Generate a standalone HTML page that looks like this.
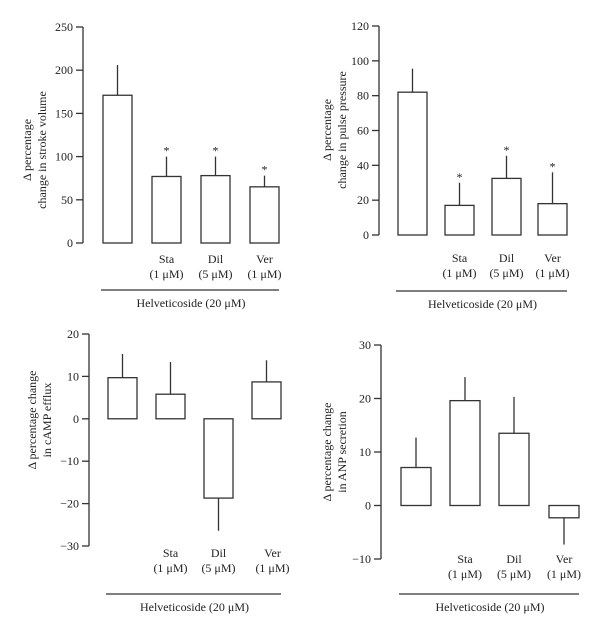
<!DOCTYPE html>
<html><head><meta charset="utf-8"><style>
body{margin:0;background:#fff}
svg{display:block;font-family:"Liberation Serif",serif;font-size:12px;fill:#222}
</style></head><body>
<svg id="c" width="600" height="638" viewBox="0 0 600 638" xmlns="http://www.w3.org/2000/svg"></svg>
<script>
const groupLabels = ["", "Sta", "Dil", "Ver"];
const concLabels = ["", "(1 \u03bcM)", "(5 \u03bcM)", "(1 \u03bcM)"];
const svValues = [171, 77, 78, 65];
const svErrors = [206, 100, 100, 78];
const svStars = [false, true, true, true];
const svTicks = [0, 50, 100, 150, 200, 250];
const ppValues = [82, 17, 32.5, 18];
const ppErrors = [95.5, 30, 45.5, 36];
const ppStars = [false, true, true, true];
const ppTicks = [0, 20, 40, 60, 80, 100, 120];
const campValues = [9.7, 5.8, -18.7, 8.7];
const campErrors = [15.3, 13.4, -26.4, 13.8];
const campStars = [false, false, false, false];
const campTicks = [-30, -20, -10, 0, 10, 20];
const anpValues = [7.1, 19.6, 13.5, -2.3];
const anpErrors = [12.7, 24, 20.3, -7.3];
const anpStars = [false, false, false, false];
const anpTicks = [-10, 0, 10, 20, 30];

const svg = document.getElementById('c');
const NS = 'http://www.w3.org/2000/svg';
function mk(tag, attrs, parent) {
  const e = document.createElementNS(NS, tag);
  for (const k in attrs) e.setAttribute(k, attrs[k]);
  (parent || svg).appendChild(e);
  return e;
}
function panel(p) {
  const g = mk('g', {});
  
  
  const tmin = p.ticks[0], tmax = p.ticks[p.ticks.length - 1];
  const y = v => p.yBot + (v - tmin) / (tmax - tmin) * (p.yTop - p.yBot);
  const ax = mk('line', {x1: p.ax, x2: p.ax, y1: p.yTop, y2: p.yBot, stroke: '#333', 'stroke-width': 1.3}, g);
  
  
  p.ticks.forEach(t => {
    mk('line', {x1: p.ax - 7, x2: p.ax, y1: y(t), y2: y(t), stroke: '#333', 'stroke-width': 1.3}, g);
    const tx = mk('text', {x: p.ax - 10, y: y(t) + 4, 'text-anchor': 'end'}, g);
    tx.textContent = t < 0 ? '\u2212' + Math.abs(t) : String(t);
    
    
  });
  const tt = mk('text', {transform: `translate(${p.titleX},${p.titleY}) rotate(-90)`, 'text-anchor': 'middle'}, g);
  
  
  p.title.forEach((s, i) => { const ts = mk('tspan', {x: 0, dy: i ? 15 : 0}, tt); ts.textContent = s; });
  p.values.forEach((v, i) => {
    const x0 = p.bx[i], w = p.bw;
    const cx = x0 + w / 2;
    const e = p.errors[i];
    const eb = mk('line', {x1: cx, x2: cx, y1: y(v), y2: y(e), stroke: '#333', 'stroke-width': 1.3}, g);
    
    
    const r = mk('rect', {x: x0, y: Math.min(y(v), y(0)), width: w, height: Math.abs(y(v) - y(0)), fill: '#fff', stroke: '#333', 'stroke-width': 1.3}, g);
    
    
    if (p.stars[i]) {
      const st = mk('text', {x: cx, y: y(e) - 2, 'text-anchor': 'middle', 'font-size': 12}, g);
      st.textContent = '*';
      
      
    }
    if (groupLabels[i]) {
      const lx = cx + (p.labDx ? p.labDx[i] : 0);
      const l1 = mk('text', {x: lx, y: p.labY, 'text-anchor': 'middle'}, g);
      l1.textContent = groupLabels[i];
      
      
      const l2 = mk('text', {x: lx, y: p.labY + 15, 'text-anchor': 'middle'}, g);
      l2.textContent = concLabels[i];
      
      
    }
  });
  const last = p.bx[p.bx.length - 1] + p.bw;
  const bl = mk('line', {x1: p.bx[0] - 2, x2: last, y1: p.lineY, y2: p.lineY, stroke: '#333', 'stroke-width': 1.3}, g);
  
  
  const hv = mk('text', {x: (p.bx[0] + last) / 2, y: p.lineY + 17, 'text-anchor': 'middle'}, g);
  hv.textContent = 'Helveticoside (20 \u03bcM)';
  
  
}
panel({name: 'stroke-volume-panel', ax: 83, yTop: 27, yBot: 243, ticks: svTicks, values: svValues, errors: svErrors, stars: svStars,
  bx: [103, 152, 201, 250], bw: 29, labY: 263, lineY: 290, titleX: 31, titleY: 150, title: ['\u0394 percentage', 'change in stroke volume']});
panel({name: 'pulse-pressure-panel', ax: 379, yTop: 26, yBot: 235, ticks: ppTicks, values: ppValues, errors: ppErrors, stars: ppStars,
  bx: [398, 445, 492, 538], bw: 29, labY: 262, lineY: 291, titleX: 331, titleY: 130, title: ['\u0394 percentage', 'change in pulse pressure']});
panel({name: 'camp-efflux-panel', ax: 89, yTop: 334, yBot: 546, ticks: campTicks, values: campValues, errors: campErrors, stars: campStars,
  bx: [108, 156, 204, 252], bw: 29, labY: 557, labDx: [0, 0, 0, 6], lineY: 594, titleX: 36, titleY: 420, title: ['\u0394 percentage change', 'in cAMP efflux']});
panel({name: 'anp-secretion-panel', ax: 381, yTop: 345, yBot: 559, ticks: anpTicks, values: anpValues, errors: anpErrors, stars: anpStars,
  bx: [401, 450, 499, 549], bw: 30, labY: 563, lineY: 594, titleX: 331, titleY: 452, title: ['\u0394 percentage change', 'in ANP secretion']});
</script>
</body></html>
